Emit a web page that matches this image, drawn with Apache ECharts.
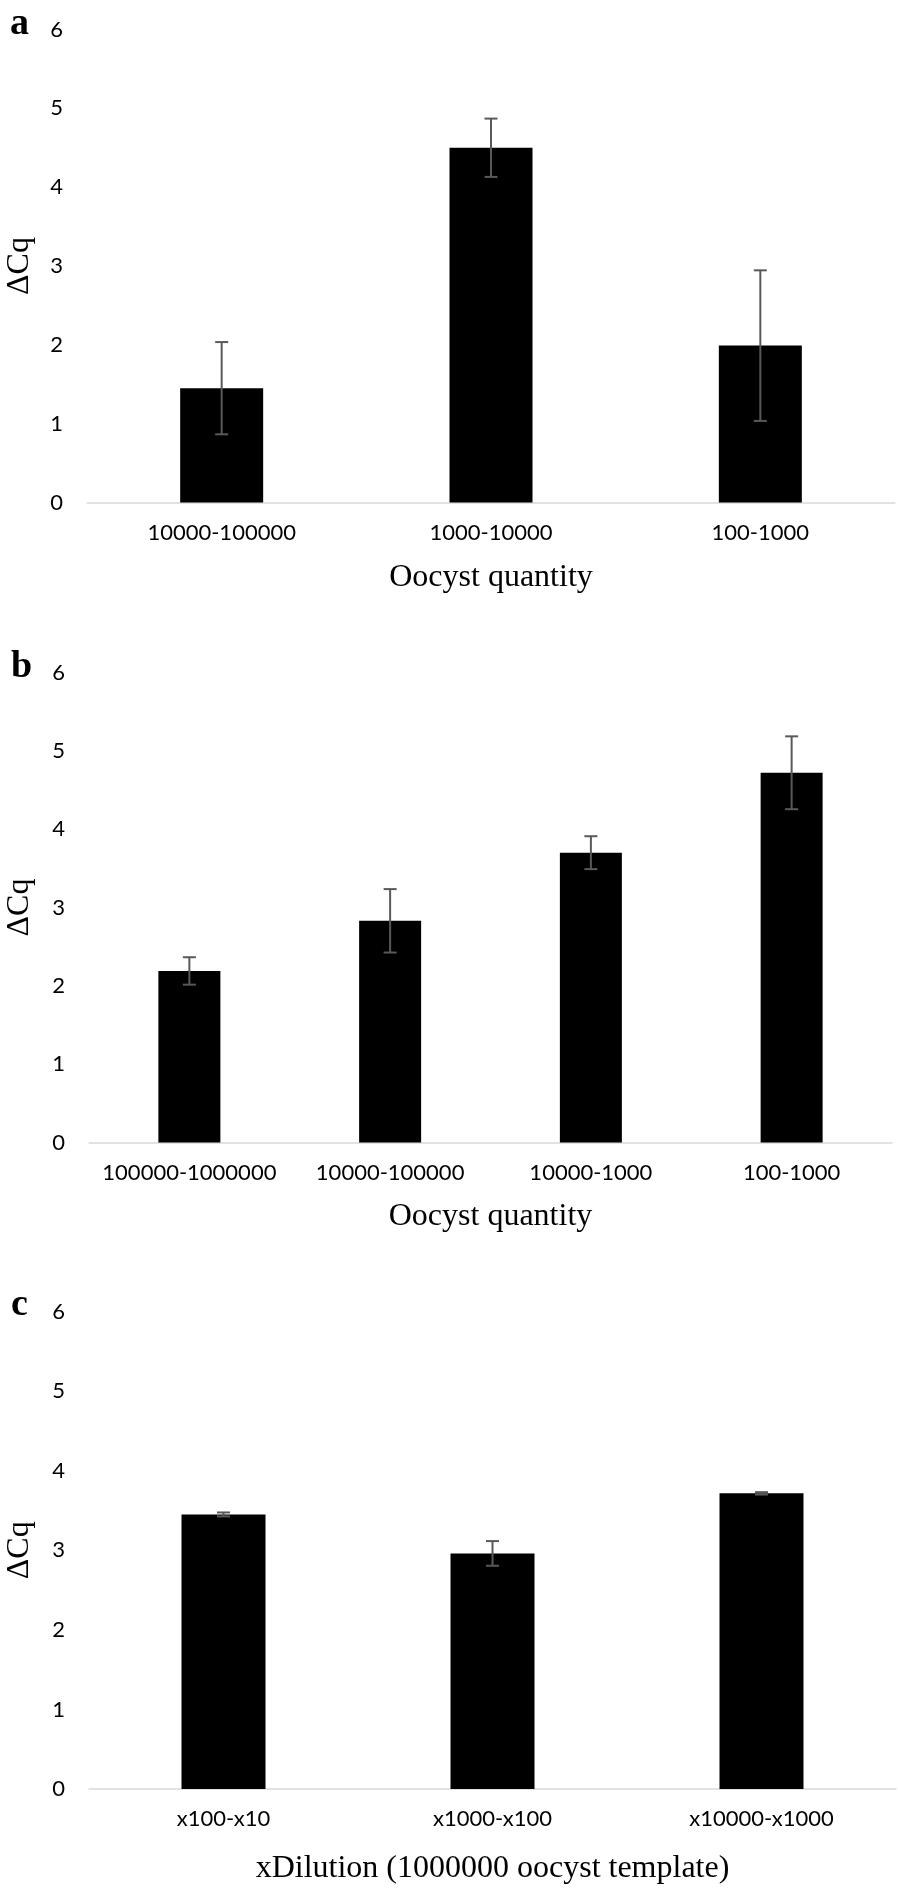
<!DOCTYPE html>
<html>
<head>
<meta charset="utf-8">
<script src="https://cdn.jsdelivr.net/npm/echarts@6/dist/echarts.min.js"></script>
<style>
html,body{margin:0;padding:0;background:#fff;}
#chart{width:898px;height:1891px;}
</style>
</head>
<body>
<div id="chart"></div>
<script>
// Panel a
const catsA = ['10000-100000', '1000-10000', '100-1000'];
const valsA = [1.45, 4.50, 1.99];
const errA = [0.585, 0.37, 0.955];
// Panel b
const catsB = ['100000-1000000', '10000-100000', '10000-1000', '100-1000'];
const valsB = [2.19, 2.83, 3.70, 4.72];
const errB = [0.175, 0.405, 0.21, 0.465];
// Panel c
const catsC = ['x100-x10', 'x1000-x100', 'x10000-x1000'];
const valsC = [3.45, 2.96, 3.715];
const errC = [0.025, 0.155, 0.015];

const yTicks = [0, 1, 2, 3, 4, 5, 6];
const panelLetters = ['a', 'b', 'c'];
const xTitles = ['Oocyst quantity', 'Oocyst quantity', 'xDilution (1000000 oocyst template)'];
const yTitle = 'ΔCq';

const chart = echarts.init(document.getElementById('chart'), null, {renderer: 'canvas'});

const grids = [
  {left: 87, right: 3, top: 29.5, height: 473},
  {left: 89, right: 6, top: 672.5, height: 470},
  {left: 89, right: 2, top: 1311.5, height: 477.5}
];
const barWidths = [83, 62, 84];
const nameGaps = [59, 58, 64];
const sans = 'Lato, "Liberation Sans", sans-serif';
const serif = '"Liberation Serif", "Times New Roman", serif';

const cats = [catsA, catsB, catsC];
const vals = [valsA, valsB, valsC];
const errs = [errA, errB, errC];

const xAxis = [], yAxis = [], series = [];
for (let i = 0; i < 3; i++) {
  xAxis.push({
    type: 'category', gridIndex: i, data: cats[i],
    axisLine: {show: true, lineStyle: {color: '#d9d9d9', width: 1.5}},
    axisTick: {show: false},
    axisLabel: {color: '#000', fontFamily: sans, fontSize: 22, margin: 19, interval: 0, hideOverlap: false},
    name: xTitles[i], nameLocation: 'middle', nameGap: nameGaps[i],
    nameTextStyle: {color: '#000', fontFamily: serif, fontSize: 32}
  });
  yAxis.push({
    type: 'value', gridIndex: i, min: yTicks[0], max: yTicks[yTicks.length - 1], interval: 1,
    axisLine: {show: false}, axisTick: {show: false}, splitLine: {show: false},
    axisLabel: {color: '#000', fontFamily: sans, fontSize: 22, margin: 24}
  });
  series.push({
    type: 'bar', xAxisIndex: i, yAxisIndex: i, data: vals[i],
    barWidth: barWidths[i], itemStyle: {color: '#000'}, silent: true, animation: false
  });
  const e = errs[i];
  series.push({
    type: 'custom', xAxisIndex: i, yAxisIndex: i, animation: false, silent: true, z: 10,
    data: vals[i].map((v, k) => [k, v, e[k]]),
    renderItem: function (params, api) {
      const k = api.value(0), v = api.value(1), er = api.value(2);
      const hi = api.coord([k, v + er]);
      const lo = api.coord([k, v - er]);
      const half = 6.5;
      const style = {stroke: '#595959', lineWidth: 2};
      return {
        type: 'group',
        children: [
          {type: 'line', shape: {x1: hi[0], y1: hi[1], x2: lo[0], y2: lo[1]}, style: style},
          {type: 'line', shape: {x1: hi[0] - half, y1: hi[1], x2: hi[0] + half, y2: hi[1]}, style: style},
          {type: 'line', shape: {x1: lo[0] - half, y1: lo[1], x2: lo[0] + half, y2: lo[1]}, style: style}
        ]
      };
    }
  });
}

// baseline positions of the panel letters (converted to middle alignment below)
const letterPos = [[10, 37], [11, 680], [11, 1318]];
const graphic = [];
panelLetters.forEach((t, i) => {
  graphic.push({
    type: 'text', x: letterPos[i][0], y: letterPos[i][1] - 13,
    style: {text: t, fill: '#000', font: 'bold 38px "Liberation Serif", serif', verticalAlign: 'middle', align: 'left'}
  });
  const g = grids[i];
  graphic.push({
    type: 'text', x: 20, y: g.top + g.height / 2, rotation: Math.PI / 2,
    style: {text: yTitle, fill: '#000', font: '32px "Liberation Serif", serif', align: 'center', verticalAlign: 'middle'}
  });
});

chart.setOption({
  animation: false,
  grid: grids,
  xAxis: xAxis,
  yAxis: yAxis,
  series: series,
  graphic: graphic
});
</script>
</body>
</html>
